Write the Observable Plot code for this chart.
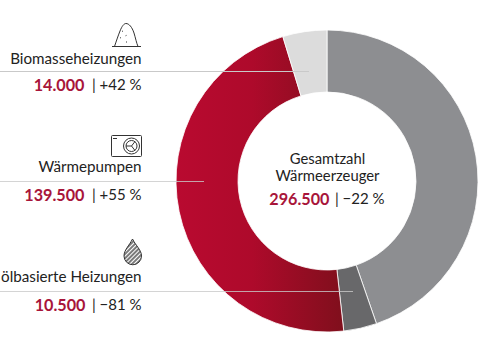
<!DOCTYPE html>
<html><head><meta charset="utf-8">
<script src="https://cdn.jsdelivr.net/npm/d3@7"></script>
<script src="https://cdn.jsdelivr.net/npm/@observablehq/plot@0.6"></script>
<style>html,body{margin:0;padding:0;background:#fff}svg{display:block}</style>
</head><body><div id="chart"></div>
<script>
const categories = ["Sonstige","ölbasierte Heizungen","Wärmepumpen","Biomasseheizungen"];
const counts = [132500,10500,139500,14000];
const sliceColors = ["#8d8e91","#68686a","url(#hpGrad)","#dcdcdc"];
const labelNames = ["Biomasseheizungen","Wärmepumpen","ölbasierte Heizungen"];
const labelNumbers = ["14.000","139.500","10.500"];
const labelChanges = ["| +42 %","| +55 %","| −81 %"];
const centerLines = ["Gesamtzahl","Wärmeerzeuger"];
const centerNumber = "296.500";
const centerChange = "| −22 %";

const FONT = "Lato,sans-serif";
const slices = d3.pie().sort(null)(counts);

function donut(index, {x, y}) {
  const g = d3.create("svg:g");
  const defs = g.append("defs");
  const lg = defs.append("linearGradient").attr("id","hpGrad").attr("gradientUnits","userSpaceOnUse")
    .attr("x1",-151).attr("x2",18).attr("y1",0).attr("y2",0);
  lg.append("stop").attr("offset",0).attr("stop-color","#b90a30");
  lg.append("stop").attr("offset",0.45).attr("stop-color","#ae0a2b");
  lg.append("stop").attr("offset",1).attr("stop-color","#7f0f1c");
  const arc = d3.arc().innerRadius(89).outerRadius(151);
  g.append("g").attr("transform",`translate(${x(327)},${y(181)})`)
    .selectAll("path").data(slices).join("path")
    .attr("d",arc)
    .attr("fill",(d,i)=>sliceColors[i])
    .attr("stroke","#fff").attr("stroke-width",0.8);
  return g.node();
}
function icons(index, {x, y}) {
  const g = d3.create("svg:g").attr("fill","none").attr("stroke","#333").attr("stroke-width",1);
  const defs = g.append("defs");
  defs.append("pattern").attr("id","hatch").attr("patternUnits","userSpaceOnUse")
    .attr("width",3).attr("height",3).attr("patternTransform","rotate(-45)")
    .append("line").attr("x1",0).attr("x2",3).attr("y1",1).attr("y2",1).attr("stroke","#333").attr("stroke-width",1.3);
  g.append("path").attr("d","M112 46.5H141M114.5 46.5C116 42 118 36 120 31C122 26 124 23.5 126 23.5C129 23.5 132 27 134 33C135.5 38 136.5 43 138 46.5");
  g.append("path").attr("stroke-dasharray","1 5").attr("d","M122 31L127 33M120 38L130 34M126 42L129 42");
  g.append("rect").attr("x",111.5).attr("y",135.5).attr("width",30).attr("height",21).attr("rx",1);
  g.append("path").attr("d","M113 138.5H117");
  g.append("circle").attr("cx",131.5).attr("cy",146).attr("r",8);
  g.append("circle").attr("cx",131.5).attr("cy",146).attr("r",5.5);
  g.append("path").attr("d","M126 146H131.5L135 141.5M131.5 146L135 150.5");
  g.append("path").attr("fill","url(#hatch)").attr("d","M132.5 239C129 246 124 250 124 256A8.7 8.7 0 0 0 141.5 256C141.5 250 136 246 132.5 239Z");
  return g.node();
}
const labelEnd = 141;
const T = (data, o) => Plot.text(data, {fontFamily:FONT, frameAnchor:null, ...o});
const chart = Plot.plot({
  width:480, height:360, margin:0,
  x:{domain:[0,480],range:[0,480],axis:null},
  y:{domain:[0,360],range:[0,360],axis:null},
  style:{background:"#fff"},
  marks:[
    donut,
    Plot.ruleY([71],{x1:0,x2:309,stroke:"#c9c9c9",strokeWidth:1}),
    Plot.ruleY([181],{x1:0,x2:204,stroke:"#c9c9c9",strokeOpacity:0.8,strokeWidth:1}),
    Plot.ruleY([291],{x1:0,x2:353,stroke:"#c9c9c9",strokeOpacity:0.8,strokeWidth:1}),
    icons,
    T(labelNames,{x:()=>labelEnd,y:(d,i)=>[59,167,277][i],text:d=>d,textAnchor:"end",fontSize:15.2,fill:"#222"}),
    T(labelNumbers,{x:(d,i)=>[84,84,85][i],y:(d,i)=>[85,195,305][i],text:d=>d,textAnchor:"end",fontSize:16.2,fontWeight:700,fill:"#a8153a"}),
    T(labelChanges,{x:()=>labelEnd,y:(d,i)=>[85,195,305][i],text:d=>d,textAnchor:"end",fontSize:15,fill:"#222"}),
    T(centerLines,{x:()=>327,y:(d,i)=>[159,176][i],text:d=>d,textAnchor:"middle",fontSize:14.8,fill:"#222"}),
    T([centerNumber],{x:()=>329,y:()=>199,text:d=>d,textAnchor:"end",fontSize:16.2,fontWeight:700,fill:"#a8153a"}),
    T([centerChange],{x:()=>384,y:()=>199,text:d=>d,textAnchor:"end",fontSize:15,fill:"#222"})
  ]
});
document.getElementById("chart").append(chart);
</script></body></html>
